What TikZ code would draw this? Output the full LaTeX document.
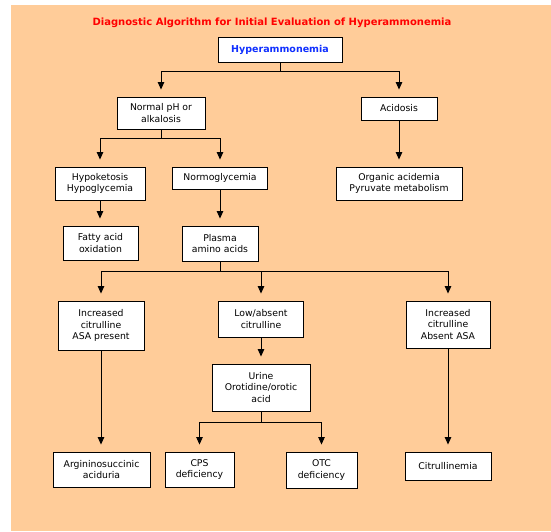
\documentclass[tikz,border=0pt]{standalone}
\usepackage{fontspec}
\setmainfont{DejaVu Sans}
\usetikzlibrary{arrows.meta}
\definecolor{peach}{HTML}{FFCC99}
\definecolor{titlered}{HTML}{FF0000}
\definecolor{hblue}{HTML}{1030FF}
\begin{document}
\begin{tikzpicture}[x=1pt,y=-1pt,
  box/.style={draw=black,fill=white,line width=0.9pt,inner sep=0pt,align=center,
    font=\fontsize{9.3}{11.5}\selectfont},
  conn/.style={draw=black,line width=0.9pt},
  arr/.style={conn,-{Triangle[width=6.5pt,length=7.5pt]},shorten >=7pt}]
\useasboundingbox (0,0) rectangle (551,531);
\fill[peach] (11,5) rectangle (551,531);
\node[font=\fontsize{10}{12}\selectfont\bfseries,text=titlered] (title) at (272,23) {Diagnostic Algorithm for Initial Evaluation of Hyperammonemia};
% boxes
\node[box,minimum width=124pt,minimum height=25pt,font=\fontsize{9.5}{11}\selectfont\bfseries,text=hblue] (hyper) at (280,49.5) {Hyperammonemia};
\node[box,minimum width=88pt,minimum height=32pt] (normal) at (161,113) {Normal pH or\\alkalosis};
\node[box,minimum width=76pt,minimum height=23pt] (acid) at (399,108.5) {Acidosis};
\node[box,minimum width=90pt,minimum height=33pt] (hypok) at (100,183.5) {Hypoketosis\\Hypoglycemia};
\node[box,minimum width=95pt,minimum height=22pt] (normo) at (220,178) {Normoglycemia};
\node[box,minimum width=126pt,minimum height=33pt] (organic) at (399,183.5) {Organic acidemia\\Pyruvate metabolism};
\node[box,minimum width=75pt,minimum height=34pt] (fatty) at (100.5,243) {Fatty acid\\oxidation};
\node[box,minimum width=76pt,minimum height=35pt] (plasma) at (220,243.5) {Plasma\\amino acids};
\node[box,minimum width=86pt,minimum height=49pt] (incasa) at (101,325.5) {Increased\\citrulline\\ASA present};
\node[box,minimum width=85pt,minimum height=36pt] (low) at (261,319) {Low/absent\\citrulline};
\node[box,minimum width=84pt,minimum height=47pt] (incabs) at (448,324.5) {Increased\\citrulline\\Absent ASA};
\node[box,minimum width=98pt,minimum height=47pt] (urine) at (261,387.5) {Urine\\Orotidine/orotic\\acid};
\node[box,minimum width=97pt,minimum height=35pt] (argin) at (101.5,469.5) {Argininosuccinic\\aciduria};
\node[box,minimum width=69pt,minimum height=35pt] (cps) at (199.5,469.5) {CPS\\deficiency};
\node[box,minimum width=71pt,minimum height=36pt] (otc) at (321.5,470) {OTC\\deficiency};
\node[box,minimum width=86pt,minimum height=28pt] (citrul) at (448,466) {Citrullinemia};
% junctions
\coordinate (j1) at (280,71);
\coordinate (j2) at (161,138);
\coordinate (j3) at (220,271);
\coordinate (j4) at (261,422);
% connectors
\draw[conn] (hyper.south) -- (j1);
\draw[arr] (j1) -| (normal.north);
\draw[arr] (j1) -| (acid.north);
\draw[conn] (normal.south) -- (j2);
\draw[arr] (j2) -| (hypok.north);
\draw[arr] (j2) -| (normo.north);
\draw[arr] (acid.south) -- (acid.south |- organic.north);
\draw[arr] (hypok.south) -- (hypok.south |- fatty.north);
\draw[arr] (normo.south) -- (normo.south |- plasma.north);
\draw[conn] (plasma.south) -- (j3);
\draw[arr] (j3) -| (incasa.north);
\draw[arr] (j3) -| (low.north);
\draw[arr] (j3) -| (incabs.north);
\draw[arr] (low.south) -- (low.south |- urine.north);
\draw[conn] (urine.south) -- (j4);
\draw[arr] (j4) -| (cps.north);
\draw[arr] (j4) -| (otc.north);
\draw[arr] (incasa.south) -- (incasa.south |- argin.north);
\draw[arr] (incabs.south) -- (incabs.south |- citrul.north);
\end{tikzpicture}
\end{document}
